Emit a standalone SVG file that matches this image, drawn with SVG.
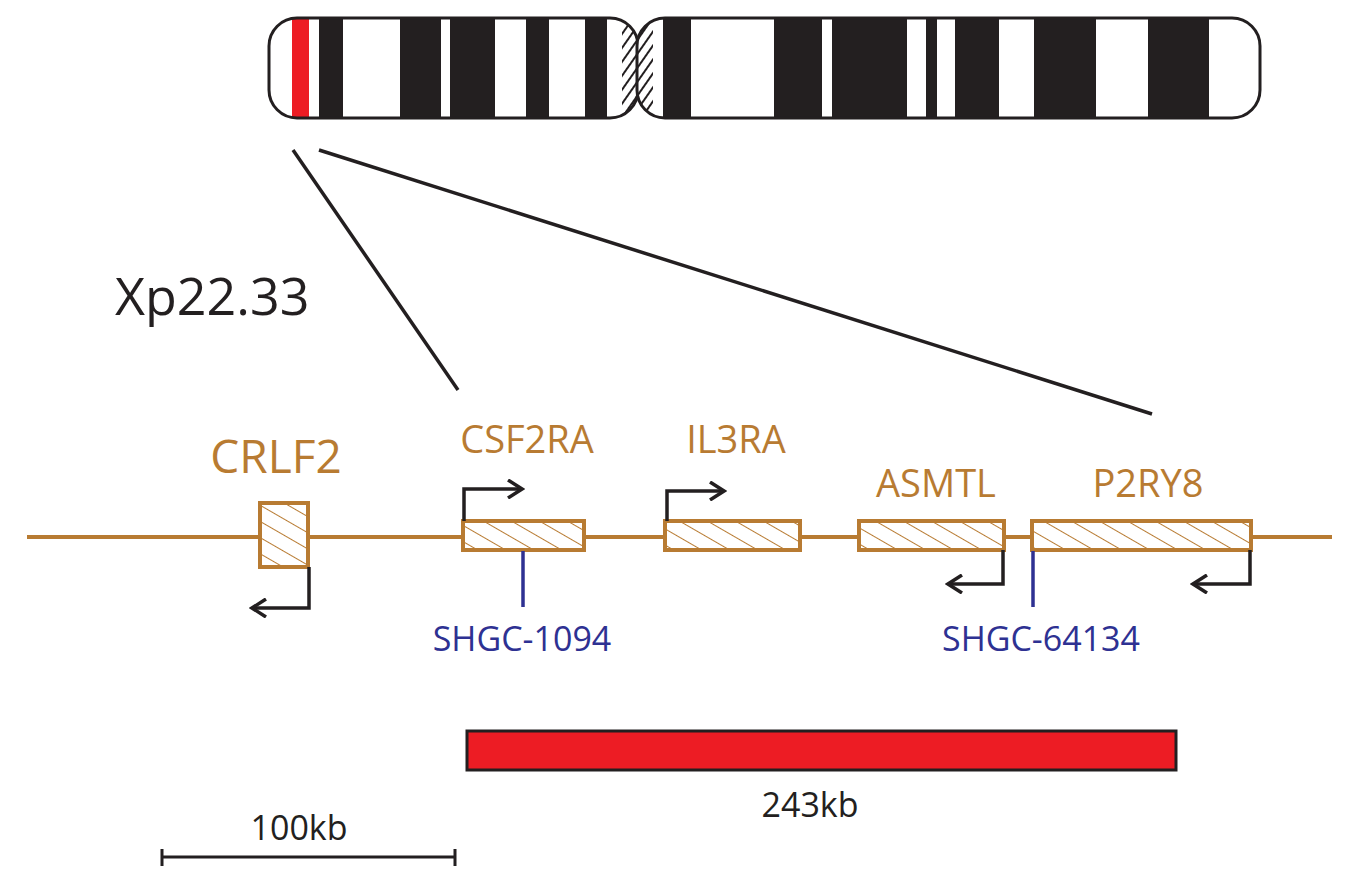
<svg xmlns="http://www.w3.org/2000/svg" width="1357" height="886" viewBox="0 0 1357 886">
<style>
.g{fill:#b87b32;font-family:"Open Sans","Liberation Sans",sans-serif;text-anchor:middle}
.m{fill:#2e3192;font-family:"Open Sans","Liberation Sans",sans-serif;font-size:34px;text-anchor:middle}
.k{fill:#231f20;font-family:"Open Sans","Liberation Sans",sans-serif;text-anchor:middle}
.box{fill:url(#h);stroke:#b87b32;stroke-width:4}
.arr{fill:none;stroke:#231f20;stroke-width:3.5}
.b{fill:#231f20}
</style>
<defs>
<pattern id="h" width="14" height="14" patternUnits="userSpaceOnUse" patternTransform="rotate(-60)"><rect width="14" height="14" fill="#fff"/><line x1="0" y1="0" x2="0" y2="14" stroke="#b87b32" stroke-width="2"/></pattern>
<pattern id="hk" width="8" height="8" patternUnits="userSpaceOnUse" patternTransform="rotate(35)"><rect width="8" height="8" fill="#fff"/><line x1="0" y1="0" x2="0" y2="8" stroke="#231f20" stroke-width="4"/></pattern>
<clipPath id="la"><rect x="269" y="18" width="369" height="100" rx="28"/></clipPath>
<clipPath id="ra"><rect x="637" y="18" width="623" height="100" rx="28"/></clipPath>
<marker id="ah" markerWidth="20" markerHeight="20" refX="17" refY="10" orient="auto" markerUnits="userSpaceOnUse"><path d="M3,1 L17,10 L3,19" fill="none" stroke="#231f20" stroke-width="3.5"/></marker>
</defs>
<g id="chromosome">
<g clip-path="url(#la)">
<rect x="269" y="18" width="369" height="100" fill="#fff"/>
<rect x="292" y="18" width="17" height="100" fill="#ed1c24"/>
<rect class="b" x="319" y="18" width="24" height="100"/>
<rect class="b" x="400" y="18" width="41" height="100"/>
<rect class="b" x="450" y="18" width="45" height="100"/>
<rect class="b" x="526" y="18" width="23" height="100"/>
<rect class="b" x="585" y="18" width="22" height="100"/>
<rect x="622" y="18" width="16" height="100" fill="url(#hk)"/>
</g>
<rect x="269" y="18" width="369" height="100" rx="28" fill="none" stroke="#231f20" stroke-width="3"/>
<g clip-path="url(#ra)">
<rect x="637" y="18" width="623" height="100" fill="#fff"/>
<rect x="637" y="18" width="16" height="100" fill="url(#hk)"/>
<rect class="b" x="663" y="18" width="28" height="100"/>
<rect class="b" x="774" y="18" width="48" height="100"/>
<rect class="b" x="832" y="18" width="75" height="100"/>
<rect class="b" x="926" y="18" width="11" height="100"/>
<rect class="b" x="955" y="18" width="44" height="100"/>
<rect class="b" x="1034" y="18" width="62" height="100"/>
<rect class="b" x="1148" y="18" width="61" height="100"/>
</g>
<rect x="637" y="18" width="623" height="100" rx="28" fill="none" stroke="#231f20" stroke-width="3"/>
</g>
<g id="connectors" stroke="#231f20" stroke-width="3.5" fill="none">
<line x1="293" y1="150" x2="458" y2="390"/>
<line x1="319" y1="150" x2="1152" y2="414"/>
</g>
<text id="band" x="115" y="315" font-family="Open Sans,Liberation Sans,sans-serif" font-size="52" fill="#231f20">Xp22.33</text>
<line x1="27" y1="537" x2="1332" y2="537" stroke="#b87b32" stroke-width="4"/>
<g id="CRLF2"><rect class="box" x="260" y="503" width="48" height="64"/><text class="g" x="276" y="473" font-size="46">CRLF2</text><path class="arr" d="M309,567 V608 H252" marker-end="url(#ah)"/></g>
<g id="CSF2RA"><rect class="box" x="463" y="521" width="121" height="29"/><text class="g" x="527" y="453" font-size="38">CSF2RA</text><path class="arr" d="M464,521 V489 H522" marker-end="url(#ah)"/></g>
<g id="IL3RA"><rect class="box" x="665" y="521" width="135" height="29"/><text class="g" x="736" y="453" font-size="38">IL3RA</text><path class="arr" d="M667,521 V491 H724" marker-end="url(#ah)"/></g>
<g id="ASMTL"><rect class="box" x="859" y="521" width="145" height="29"/><text class="g" x="936" y="497" font-size="38">ASMTL</text><path class="arr" d="M1003,550 V584 H948" marker-end="url(#ah)"/></g>
<g id="P2RY8"><rect class="box" x="1032" y="521" width="219" height="29"/><text class="g" x="1148" y="497" font-size="38">P2RY8</text><path class="arr" d="M1250,550 V584 H1193" marker-end="url(#ah)"/></g>
<g id="SHGC-1094"><line x1="523" y1="551" x2="523" y2="607" stroke="#2e3192" stroke-width="3.5"/><text class="m" x="522" y="651">SHGC-1094</text></g>
<g id="SHGC-64134"><line x1="1033" y1="551" x2="1033" y2="607" stroke="#2e3192" stroke-width="3.5"/><text class="m" x="1041" y="651">SHGC-64134</text></g>
<g id="region"><rect x="467" y="731" width="709" height="39" fill="#ed1c24" stroke="#231f20" stroke-width="3"/><text class="k" x="810" y="817" font-size="34">243kb</text></g>
<g id="scale"><path d="M162,857 H455 M162,849 V866 M455,849 V866" stroke="#231f20" stroke-width="3" fill="none"/><text class="k" x="299" y="840" font-size="34">100kb</text></g>
</svg>
